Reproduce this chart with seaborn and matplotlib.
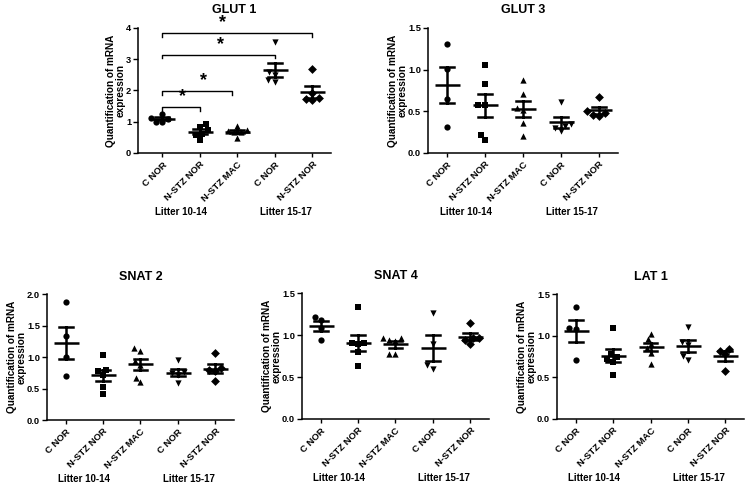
import matplotlib
matplotlib.use('Agg')
import matplotlib.pyplot as plt
import seaborn as sns
import pandas as pd

# x tick labels and litter groups
categories = ['C NOR', 'N-STZ NOR', 'N-STZ MAC', 'C NOR', 'N-STZ NOR']
groups = ['Litter 10-14', 'Litter 15-17']
markers = ['o', 's', '^', 'v', 'D']

# values per category
glut1 = [[1.25, 1.12, 1.08, 1.0, 1.0],
         [0.92, 0.82, 0.72, 0.62, 0.58, 0.42],
         [0.85, 0.72, 0.70, 0.68, 0.66, 0.48],
         [3.55, 2.60, 2.50, 2.32, 2.28],
         [2.68, 1.92, 1.76, 1.72, 1.70]]
glut3 = [[1.31, 1.01, 0.65, 0.31],
         [1.06, 0.83, 0.58, 0.57, 0.22, 0.16],
         [0.87, 0.71, 0.54, 0.51, 0.36, 0.20],
         [0.61, 0.35, 0.32, 0.30, 0.26],
         [0.67, 0.50, 0.48, 0.46, 0.44]]
snat2 = [[1.88, 1.33, 1.00, 0.70],
         [1.04, 0.80, 0.78, 0.71, 0.52, 0.42],
         [1.14, 1.10, 0.93, 0.88, 0.67, 0.60],
         [0.96, 0.76, 0.74, 0.71, 0.59],
         [1.07, 0.82, 0.80, 0.78, 0.62]]
snat4 = [[1.22, 1.18, 1.08, 0.94],
         [1.33, 0.91, 0.90, 0.89, 0.80, 0.63],
         [0.97, 0.96, 0.94, 0.93, 0.77, 0.77],
         [1.26, 0.89, 0.64, 0.60],
         [1.14, 0.97, 0.96, 0.94, 0.89]]
lat1 = [[1.35, 1.09, 1.08, 0.71],
        [1.09, 0.78, 0.75, 0.72, 0.69, 0.53],
        [1.02, 0.96, 0.90, 0.85, 0.79, 0.66],
        [1.10, 0.93, 0.89, 0.76, 0.71],
        [0.84, 0.82, 0.78, 0.58]]

# significance brackets for GLUT 1: (from, to)
sig_pairs = [(0, 1), (0, 1.85), (0, 3), (0, 4)]

plt.rcParams['font.family'] = ['Liberation Sans', 'DejaVu Sans']
plt.rcParams['font.weight'] = 'bold'
plt.rcParams['axes.labelweight'] = 'bold'
plt.rcParams['axes.titleweight'] = 'bold'

keys = ['c%d' % i for i in range(len(categories))]


def to_frame(values):
    rows = []
    for k, vals in zip(keys, values):
        for v in vals:
            rows.append({'cond': k, 'value': v})
    return pd.DataFrame(rows)


def panel(ax, values, title, yticks, yfmt, xleft=-0.5, title_pad=10):
    df = to_frame(values)
    for k, m in zip(keys, markers):
        sns.swarmplot(data=df[df.cond == k], x='cond', y='value', order=keys,
                      marker=m, color='black', size=4.5, ax=ax)
    sns.pointplot(data=df, x='cond', y='value', order=keys, errorbar='se',
                  markers='_', linestyles='none', color='black', capsize=0.37,
                  markersize=18, markeredgewidth=1.8,
                  err_kws={'linewidth': 1.8}, ax=ax)
    ax.set_xlim(xleft, 4.5)
    ax.set_ylim(yticks[0], yticks[-1])
    ax.set_yticks(yticks)
    ax.set_yticklabels([yfmt % t for t in yticks], fontsize=6.7,
                       fontweight='bold')
    ax.set_xticks(range(len(categories)))
    ax.set_xticklabels(categories, rotation=45, ha='right', va='top',
                       rotation_mode='anchor', fontsize=6.8, fontweight='bold')
    ax.tick_params(axis='y', length=3.5, width=1, pad=1.5)
    ax.tick_params(axis='x', length=3, width=1, pad=2)
    ax.set_xlabel('')
    ax.set_ylabel('Quantification of mRNA\nexpression', fontsize=7.2,
                  fontweight='bold', labelpad=0, linespacing=1.0)
    ax.set_title(title, fontsize=9, fontweight='bold', pad=title_pad)
    for sp in ['top', 'right']:
        ax.spines[sp].set_visible(False)
    for sp in ['left', 'bottom']:
        ax.spines[sp].set_linewidth(1.1)
    for gx, g in zip([0.5, 3.3], groups):
        ax.annotate(g, xy=(gx, 0), xycoords=ax.get_xaxis_transform(),
                    xytext=(0, -59), textcoords='offset pixels',
                    ha='center', va='center', fontsize=7, fontweight='bold')


fig = plt.figure(figsize=(7.48, 4.86), dpi=100)
ax1 = fig.add_axes([0.1845, 0.6852, 0.258, 0.2572])
ax2 = fig.add_axes([0.5722, 0.6852, 0.254, 0.2572])
ax3 = fig.add_axes([0.0628, 0.1358, 0.250, 0.2590])
ax4 = fig.add_axes([0.4037, 0.1379, 0.250, 0.2590])
ax5 = fig.add_axes([0.7447, 0.1379, 0.250, 0.2570])

panel(ax1, glut1, 'GLUT 1', [0, 1, 2, 3, 4], '%d', xleft=-0.65, title_pad=11)
panel(ax2, glut3, 'GLUT 3', [0, 0.5, 1.0, 1.5], '%.1f', title_pad=11)
panel(ax3, snat2, 'SNAT 2', [0, 0.5, 1.0, 1.5, 2.0], '%.1f')
panel(ax4, snat4, 'SNAT 4', [0, 0.5, 1.0, 1.5], '%.1f')
panel(ax5, lat1, 'LAT 1', [0, 0.5, 1.0, 1.5], '%.1f')

# brackets and stars on GLUT 1
bar_h = [1.46, 1.99, 3.15, 3.83]
star_x = [0.55, 1.1, 1.55, 1.6]
for (a, b), h, sx in zip(sig_pairs, bar_h, star_x):
    ax1.plot([a, a, b, b], [h - 0.12, h, h, h - 0.12], color='black', lw=1,
             clip_on=False)
    ax1.text(sx, h + 0.06, '*', fontsize=13, fontweight='bold', ha='center',
             va='bottom', clip_on=False)

fig.savefig('out.png', dpi=100)
